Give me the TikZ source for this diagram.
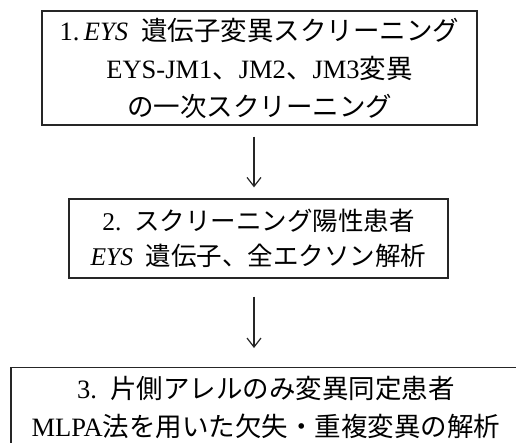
\documentclass[tikz,border=0pt]{standalone}
\usepackage{fontspec}
\setmainfont{Liberation Serif}
\newfontfamily\jp{Noto Sans CJK JP}
\usetikzlibrary{arrows.meta}
\begin{document}
\begin{tikzpicture}[x=1pt,y=1pt,
  stepbox/.style={draw=black!85, line width=1.3pt, align=center, inner sep=0pt, font=\fontsize{26.5}{38}\selectfont},
  flow/.style={draw=black!85, line width=1.2pt, -{Straight Barb[length=9pt,width=14pt,line width=1.2pt]}}]
\useasboundingbox (0,0) rectangle (516,-442);
\node[stepbox, minimum width=435pt, minimum height=114pt] (b1) at (259.5,-68)
  {1.\,\textit{EYS}\ \ {\jp 遺伝子変異スクリーニング}\\
   EYS-JM1{\jp 、}JM2{\jp 、}JM3{\jp 変異}\\
   {\jp の一次スクリーニング}};
\node[stepbox, minimum width=379pt, minimum height=79pt, font=\fontsize{25.5}{35}\selectfont] (b2) at (258.5,-238.5)
  {2.\ \ {\jp スクリーニング陽性患者}\\
   \textit{EYS}\ \ {\jp 遺伝子、全エクソン解析}};
\node[stepbox, minimum width=510pt, minimum height=80pt, anchor=north, font=\fontsize{26.5}{38}\selectfont] (b3) at (266,-367)
  {3.\ \ {\jp 片側アレルのみ変異同定患者}\\
   MLPA{\jp 法を用いた欠失・重複変異の解析}};
\draw[flow] ([xshift=-5.5pt,yshift=-11pt]b1.south) -- ([xshift=-4.5pt,yshift=11pt]b2.north);
\draw[flow] ([xshift=-4.5pt,yshift=-18pt]b2.south) -- ([xshift=-12pt,yshift=19pt]b3.north);
\end{tikzpicture}
\end{document}
